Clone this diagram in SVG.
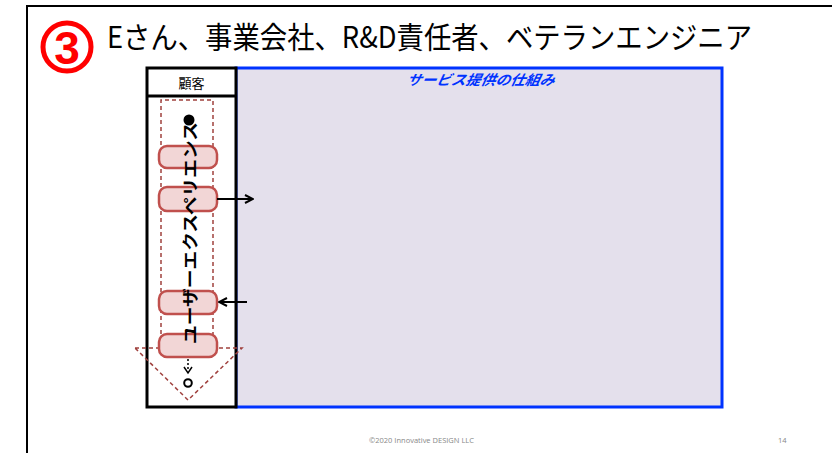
<svg xmlns="http://www.w3.org/2000/svg" width="832" height="453" viewBox="0 0 832 453">
<style>
.pill{fill:#f2d6d6;stroke:#c0504d;stroke-width:2.5}
.dash{fill:none;stroke:#a0413e;stroke-width:1.5;stroke-dasharray:4 3}
.arr{stroke:#000;stroke-width:2;fill:none}
</style>
<defs>
<marker id="ah" viewBox="0 0 10 10" refX="9" refY="5" markerWidth="10" markerHeight="10" markerUnits="userSpaceOnUse" orient="auto">
<path d="M1,1 L9,5 L1,9" fill="none" stroke="#000" stroke-width="2"/>
</marker>
</defs>
<rect width="832" height="453" fill="#fff"/>
<g id="frame"><path d="M27,453 V6 H832" fill="none" stroke="#000" stroke-width="2"/></g>
<g id="badge">
<circle cx="67" cy="47" r="24" fill="none" stroke="#ff0000" stroke-width="5"/>
<text x="67" y="64" text-anchor="middle" font-family="Liberation Sans, sans-serif" font-weight="bold" font-size="46" fill="#ff0000">3</text>
</g>
<g id="title"><text x="107" y="48" font-family="'Noto Sans CJK JP', sans-serif" font-size="30" fill="#000" textLength="645" lengthAdjust="spacingAndGlyphs">Eさん、事業会社、R&amp;D責任者、ベテランエンジニア</text></g>
<g id="service">
<rect x="236" y="68" width="486" height="339" fill="#e4e0ec" stroke="#0033ff" stroke-width="3"/>
<text x="480" y="85" text-anchor="middle" font-family="'Noto Sans CJK JP', sans-serif" font-size="14" font-weight="bold" font-style="italic" fill="#0033ff" transform="skewX(-12) translate(18,0)" textLength="148" lengthAdjust="spacingAndGlyphs">サービス提供の仕組み</text>
</g>
<g id="customer">
<rect x="147" y="68" width="89" height="339" fill="#fff" stroke="#000" stroke-width="3"/>
<line x1="147" y1="96" x2="236" y2="96" stroke="#000" stroke-width="3"/>
<text x="191.5" y="88" text-anchor="middle" font-family="'Noto Sans CJK JP', sans-serif" font-size="13" fill="#000">顧客</text>
</g>
<g id="journey-frame">
<path class="dash" d="M161,348 V100 H213 V348"/>
<path class="dash" d="M135,348 H242 L188,400 Z"/>
</g>
<g id="touchpoints">
<rect class="pill" x="159" y="146" width="58" height="22" rx="8"/>
<rect class="pill" x="159" y="187" width="58" height="24" rx="8"/>
<rect class="pill" x="159" y="291" width="58" height="23" rx="8"/>
<rect class="pill" x="159" y="334" width="58" height="23" rx="8"/>
</g>
<g id="journey-text">
<text transform="translate(196,344) rotate(-90)" font-family="'Noto Sans CJK JP', sans-serif" font-size="16" font-weight="bold" fill="#000" textLength="222" lengthAdjust="spacingAndGlyphs">ユーザーエクスペリエンス</text>
<circle cx="189" cy="120" r="5.5" fill="#000"/>
<line x1="188" y1="359" x2="188" y2="369" stroke="#000" stroke-width="1.5" stroke-dasharray="2 2"/>
<path d="M184,367 L188,373 L192,367" fill="none" stroke="#000" stroke-width="1.5"/>
<circle cx="188" cy="383" r="3.8" fill="#fff" stroke="#000" stroke-width="2"/>
</g>
<g id="connectors">
<line class="arr" x1="217" y1="199" x2="253" y2="199" marker-end="url(#ah)"/>
<line class="arr" x1="247" y1="302" x2="219" y2="302" marker-end="url(#ah)"/>
</g>
<g id="footer" font-family="'Open Sans', sans-serif" font-size="7.5" fill="#888">
<text x="369" y="443">©2020 Innovative DESIGN LLC</text>
<text x="778" y="443">14</text>
</g>
</svg>
